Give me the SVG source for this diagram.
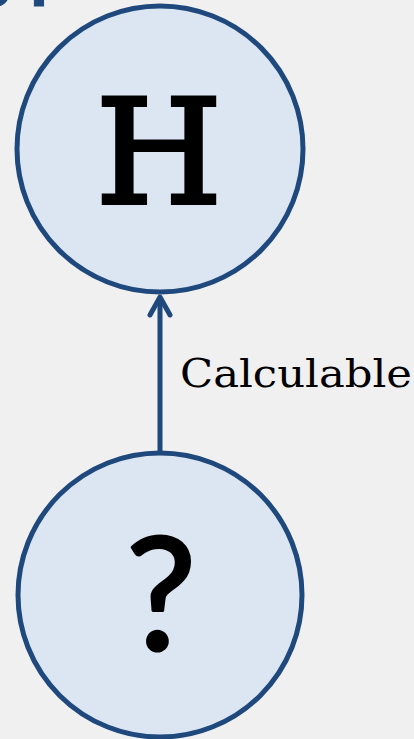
<svg xmlns="http://www.w3.org/2000/svg" width="414" height="739" viewBox="0 0 414 739">
<style>
.node{fill:#dce6f2;stroke:#1f497d;stroke-width:5}
.edge{stroke:#1f497d;stroke-width:5;fill:none}
.lbl{font-family:"DejaVu Serif","Liberation Serif",serif;fill:#000}
</style>
<defs>
<marker id="arr" viewBox="0 0 24 26" refX="21" refY="13" markerWidth="24" markerHeight="26" markerUnits="userSpaceOnUse" orient="auto">
<path d="M3,3 L21,13 L3,23" fill="none" stroke="#1f497d" stroke-width="5" stroke-linecap="round" stroke-linejoin="round"/>
</marker>
</defs>
<rect x="0" y="0" width="414" height="739" fill="#f0f0f0"/>
<text x="-33" y="6" font-family="'Liberation Mono',monospace" font-size="80" fill="#1f497d" stroke="#1f497d" stroke-width="1">s.</text>
<g id="connectors">
<line class="edge" x1="160" y1="453" x2="160" y2="297" marker-end="url(#arr)"/>
<text class="lbl" x="180" y="387" font-size="40" textLength="232" lengthAdjust="spacingAndGlyphs">Calculable</text>
</g>
<g id="node-H">
<circle class="node" cx="160" cy="149" r="143"/>
<text class="lbl" x="159" y="203" font-size="145" text-anchor="middle" stroke="#000" stroke-width="4">H</text>
</g>
<g id="node-q">
<circle class="node" cx="160" cy="595" r="142"/>
<text x="161" y="650" font-family="Lato,'DejaVu Sans',sans-serif" font-size="158" text-anchor="middle" fill="#000" stroke="#000" stroke-width="3" stroke-linejoin="round">?</text>
</g>
</svg>
